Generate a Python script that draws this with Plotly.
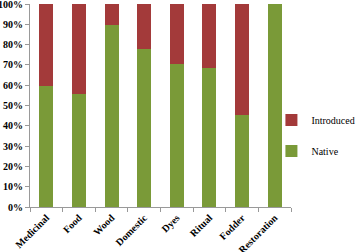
import plotly.graph_objects as go

categories = ["Medicinal", "Food", "Wood", "Domestic", "Dyes", "Ritual", "Fodder", "Restoration"]
native = [59.5, 55.7, 89.5, 78.0, 70.5, 68.5, 45.3, 100.0]
introduced = [100 - v for v in native]
tick_vals = [0, 10, 20, 30, 40, 50, 60, 70, 80, 90, 100]
tick_text = [f"{v}%" for v in tick_vals]

fam = "Liberation Serif, serif"
tfont = dict(size=10, family=fam, color="black", weight="bold")
lfont = dict(size=10, family=fam, color="black", weight="normal")

fig = go.Figure()
fig.add_trace(go.Bar(x=categories, y=native, name="Native", legendgroup="n", legendrank=2,
                     marker=dict(color="#7a9a38", line=dict(width=0))))
fig.add_trace(go.Bar(x=categories, y=introduced, name="Introduced", legendgroup="i", legendrank=1,
                     marker=dict(color="#a33a3a", line=dict(width=0))))

fig.update_layout(
    barmode="stack",
    bargap=0.57,
    width=358, height=252,
    margin=dict(l=30, r=67, t=4, b=45, autoexpand=False),
    plot_bgcolor="white", paper_bgcolor="white",
    font=dict(size=10, family=fam, color="black"),
    showlegend=True,
    legend=dict(x=0.925, y=0.5, xanchor="left", yanchor="top", traceorder="grouped",
                font=lfont, itemwidth=30, tracegroupgap=12, bgcolor="rgba(0,0,0,0)"),
    xaxis=dict(showline=True, linecolor="#999999", linewidth=1, ticks="outside",
               tickcolor="#999999", ticklen=4, tickson="boundaries", tickangle=-45,
               tickfont=tfont),
    yaxis=dict(range=[0, 100], tickvals=tick_vals, ticktext=tick_text, showgrid=False,
               showline=True, linecolor="#999999", linewidth=1, ticks="outside", tickcolor="#999999",
               ticklen=4, tickfont=tfont, ticklabeloverflow="allow"),
)
fig.write_html("out.html", config={"displayModeBar": False},
               post_script="document.body.style.margin='0px';document.body.style.overflow='hidden';")
